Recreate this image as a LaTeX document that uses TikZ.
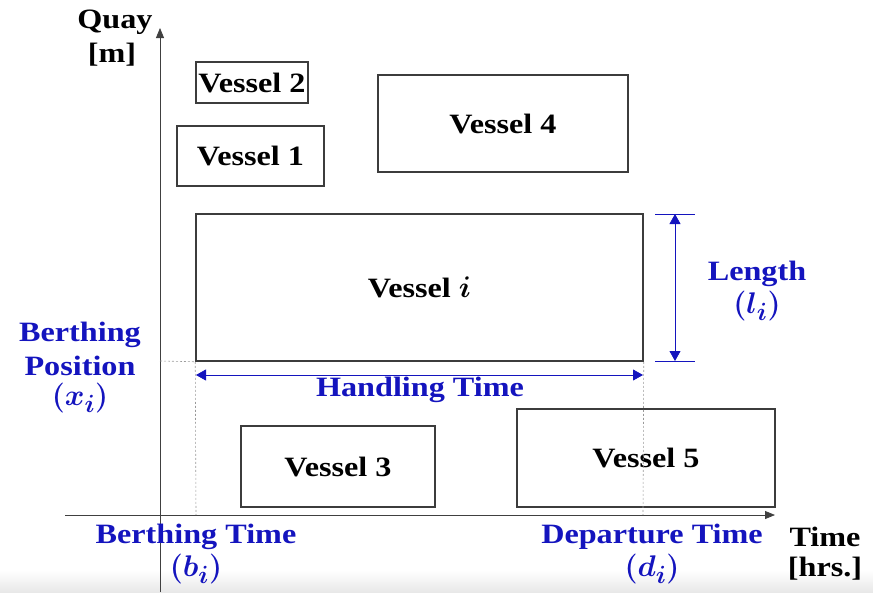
\documentclass[tikz,border=0pt]{standalone}
\usepackage{bm}
\usepackage{fontspec}
\setmainfont{Liberation Serif}[FakeStretch=1.15]
\usetikzlibrary{arrows.meta}
\definecolor{lblue}{RGB}{20,20,190}
\definecolor{boxgray}{RGB}{60,60,60}
\newcommand{\bmath}[2]{\scalebox{1.2}{\boldmath$(\bm{#1}_{\bm{#2}})$}}
\tikzset{
  lbl/.style={font=\fontsize{28}{32}\selectfont\bfseries, inner sep=0pt},
  blbl/.style={lbl, text=lblue},
  vessel/.style={draw=boxgray, line width=1.5pt, lbl, anchor=center},
  axis/.style={draw=black!75, line width=0.8pt, -{Triangle[length=10pt,width=8pt]}},
  dim/.style={draw=lblue, line width=0.8pt},
  dimarrow/.style={dim, {Triangle[length=10pt,width=11pt]}-{Triangle[length=10pt,width=11pt]}},
  guide/.style={draw=black!40, line width=0.6pt, dash pattern=on 2pt off 2pt}
}
\begin{document}
\begin{tikzpicture}[x=1pt,y=-1pt]
\useasboundingbox (0,0) rectangle (873,592);
\shade[top color=white, bottom color=black!9] (0,570) rectangle (873,592);
% axes
\coordinate (yb) at (160,592);
\coordinate (yt) at (160,28);
\coordinate (xl) at (65,515);
\coordinate (xr) at (775,515);
\draw[axis] (yb) -- (yt);
\draw[axis] (xl) -- (xr);
% vessels
\node[vessel, minimum width=112pt, minimum height=41pt] (v2) at (252,82.5) {Vessel 2};
\node[vessel, minimum width=147pt, minimum height=60pt] (v1) at (250.5,156) {Vessel 1};
\node[vessel, minimum width=250pt, minimum height=97pt] (v4) at (503,123.5) {Vessel 4};
\node[vessel, minimum width=447pt, minimum height=147pt] (vi) at (419.5,287.5) {Vessel \scalebox{1.2}{$\bm{i}$}};
\node[vessel, minimum width=194pt, minimum height=81pt] (v3) at (338,466.5) {Vessel 3};
\node[vessel, minimum width=258pt, minimum height=98pt] (v5) at (646,458) {Vessel 5};
% guides
\coordinate (gx) at (160,361);
\coordinate (gb) at (196,515);
\coordinate (gd) at (643,515);
\draw[guide] (gx) -- (vi.south west);
\draw[guide] (vi.south west) -- (gb);
\draw[guide] (vi.south east) -- (gd);
% length dimension
\coordinate (lt1) at (655,214);
\coordinate (lt2) at (695,214);
\coordinate (lb1) at (655,361);
\coordinate (lb2) at (695,361);
\coordinate (la) at (675,214);
\coordinate (lb) at (675,361);
\draw[dim] (lt1) -- (lt2);
\draw[dim] (lb1) -- (lb2);
\draw[dimarrow] (la) -- (lb);
% handling time dimension
\coordinate (ha) at (196,375);
\coordinate (hb) at (643,375);
\draw[dimarrow] (ha) -- (hb);
% labels
\node[lbl] (quay) at (115,22) {Quay};
\node[lbl] (m) at (112,55) {[m]};
\node[blbl] (bp1) at (80,335) {Berthing};
\node[blbl] (bp2) at (80,366) {Position};
\node[blbl] (bp3) at (80,398) {\bmath{x}{i}};
\node[blbl] (len1) at (757,274) {Length};
\node[blbl] (len2) at (757,306) {\bmath{l}{i}};
\node[blbl] (ht) at (420,390) {Handling Time};
\node[blbl] (bt1) at (196,537) {Berthing Time};
\node[blbl] (bt2) at (196,569) {\bmath{b}{i}};
\node[blbl] (dt1) at (652,537) {Departure Time};
\node[blbl] (dt2) at (652,569) {\bmath{d}{i}};
\node[lbl] (t1) at (825,537) {Time};
\node[lbl] (t2) at (825,569) {[hrs.]};
\end{tikzpicture}
\end{document}
